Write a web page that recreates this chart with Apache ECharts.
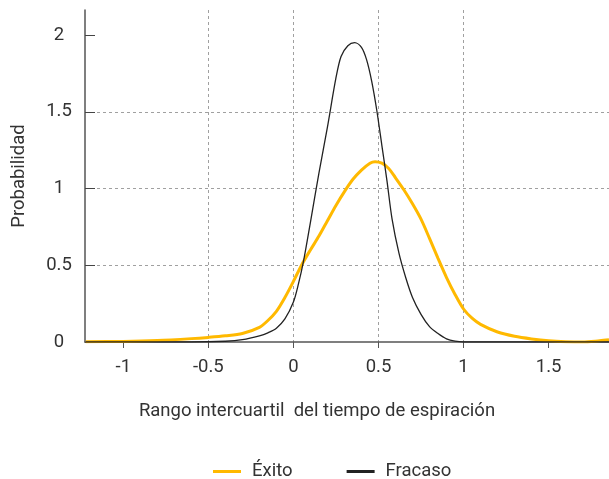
<!DOCTYPE html>
<html>
<head>
<meta charset="utf-8">
<script src="https://cdn.jsdelivr.net/npm/echarts@6/dist/echarts.min.js"></script>
<style>
  html, body { margin: 0; padding: 0; background: #fff; }
  #main { width: 609px; height: 479px; }
</style>
</head>
<body>
<div id="main"></div>
<script>
  // datos
  let exitoX = [-1.22, -1.0, -0.8, -0.6, -0.5, -0.4, -0.3, -0.2, -0.15, -0.1, -0.05, 0, 0.05, 0.1, 0.15, 0.2, 0.25, 0.3, 0.35, 0.4, 0.45, 0.48, 0.52, 0.56, 0.6, 0.65, 0.7, 0.75, 0.8, 0.85, 0.9, 0.95, 1.0, 1.05, 1.1, 1.2, 1.3, 1.4, 1.5, 1.6, 1.7, 1.8, 1.855]
  let exitoY = [0.002, 0.004, 0.01, 0.022, 0.03, 0.04, 0.055, 0.095, 0.14, 0.2, 0.29, 0.395, 0.505, 0.6, 0.69, 0.79, 0.89, 0.98, 1.06, 1.12, 1.165, 1.175, 1.165, 1.13, 1.07, 0.99, 0.9, 0.8, 0.675, 0.545, 0.42, 0.31, 0.215, 0.155, 0.115, 0.065, 0.037, 0.02, 0.008, 0.002, 0.0, 0.008, 0.014]
  let fracasoX = [-1.22, -0.6, -0.4, -0.3, -0.2, -0.15, -0.1, -0.05, 0, 0.03, 0.06, 0.1, 0.15, 0.2, 0.25, 0.28, 0.32, 0.36, 0.4, 0.43, 0.46, 0.49, 0.52, 0.55, 0.58, 0.62, 0.66, 0.7, 0.75, 0.8, 0.85, 0.9, 0.95, 1.0, 1.855]
  let fracasoY = [0, 0, 0.005, 0.015, 0.04, 0.06, 0.09, 0.15, 0.26, 0.38, 0.53, 0.78, 1.1, 1.4, 1.72, 1.86, 1.93, 1.95, 1.92, 1.84, 1.7, 1.51, 1.28, 1.05, 0.8, 0.58, 0.42, 0.29, 0.18, 0.1, 0.055, 0.02, 0.005, 0, 0]
  let xTicks = [-1, -0.5, 0, 0.5, 1, 1.5]
  let yTicks = [0, 0.5, 1, 1.5, 2]
  let nombres = ['Éxito', 'Fracaso']

  function pares(xs, ys) {
    let r = []
    for (let i = 0; i < xs.length; i++) {
      r.push([xs[i], ys[i]])
    }
    return r
  }

  let myChart = echarts.init(document.getElementById('main'))
  let gridLine = { show: true, showMinLine: false, showMaxLine: false, lineStyle: { color: '#a0a0a0', type: [3, 3], width: 1 } }
  let option = {
    animation: false,
    textStyle: { fontFamily: 'Roboto' },
    grid: { left: 85, right: 0, top: 10, bottom: 137, containLabel: false },
    legend: {
      data: nombres,
      left: 208,
      top: 457,
      icon: 'rect',
      itemWidth: 28,
      itemHeight: 3,
      itemGap: 54,
      textStyle: { fontSize: 18.5, color: '#333', padding: [0, 0, 0, 6] }
    },
    xAxis: {
      type: 'value',
      min: -1.225,
      max: 1.855,
      name: 'Rango intercuartil  del tiempo de espiración',
      nameLocation: 'middle',
      nameGap: 60,
      nameTextStyle: { fontSize: 18.5, color: '#333', padding: [0, 60, 0, 0] },
      axisLine: { onZero: false, lineStyle: { color: '#555', width: 1.5 } },
      axisTick: { show: true, customValues: xTicks, length: 6, lineStyle: { color: '#555' } },
      axisLabel: { customValues: xTicks, fontSize: 18.5, color: '#333', margin: 16 },
      splitLine: gridLine
    },
    yAxis: {
      type: 'value',
      min: 0,
      max: 2.163,
      name: 'Probabilidad',
      nameLocation: 'middle',
      nameGap: 56,
      nameTextStyle: { fontSize: 18.5, color: '#333' },
      axisLine: { show: true, onZero: false, lineStyle: { color: '#555', width: 1.5 } },
      axisTick: { show: true, customValues: yTicks, inside: true, length: 10, lineStyle: { color: '#444' } },
      axisLabel: { customValues: yTicks, fontSize: 18.5, color: '#333', align: 'center', margin: 26, padding: [0, 0, 5, 0] },
      splitLine: gridLine
    },
    series: [
      {
        name: nombres[0],
        type: 'line',
        data: pares(exitoX, exitoY),
        showSymbol: false,
        smooth: 0.3,
        color: '#ffb900',
        lineStyle: { color: '#ffb900', width: 3 },
        z: 2
      },
      {
        name: nombres[1],
        type: 'line',
        data: pares(fracasoX, fracasoY),
        showSymbol: false,
        smooth: 0.3,
        color: '#222',
        lineStyle: { color: '#222', width: 1.3 },
        z: 3
      }
    ]
  }
  myChart.setOption(option)
</script>
</body>
</html>
